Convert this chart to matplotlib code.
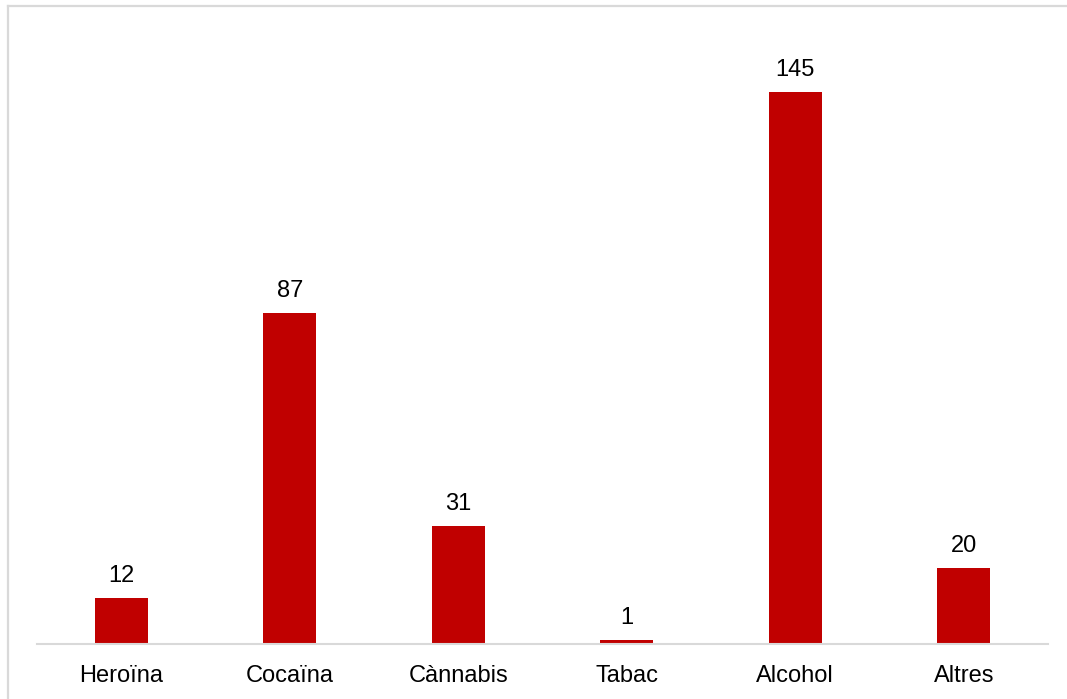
import matplotlib
matplotlib.use("Agg")
from matplotlib import pyplot as plt
from matplotlib.lines import Line2D

categories = ["Heroïna", "Cocaïna", "Cànnabis", "Tabac", "Alcohol", "Altres"]
values = [12, 87, 31, 1, 145, 20]

plt.rcParams['font.family'] = ['Liberation Sans', 'DejaVu Sans']

W, H = 1067, 699
fig = plt.figure(figsize=(W / 100, H / 100), dpi=100)

# axes placed in pixel terms: baseline at y=644, plot spans x 37..1048
ax = fig.add_axes([37 / W, (H - 644) / H, 1011 / W, 609 / H])
x = range(len(categories))
bars = ax.bar(x, values, width=0.315, color='#C00000', zorder=2)

for b, v in zip(bars, values):
    ax.annotate(str(v), (b.get_x() + b.get_width() / 2, v),
                xytext=(0, 11), textcoords='offset pixels',
                ha='center', va='bottom', fontsize=17, color='#000000')

ax.set_xlim(-0.5, len(categories) - 0.5)
ax.set_ylim(0, 160)
ax.set_xticks(list(x))
ax.set_xticklabels(categories, fontsize=17, color='#000000')
ax.tick_params(axis='x', length=0, pad=15)
ax.set_yticks([])
for s in ['top', 'left', 'right']:
    ax.spines[s].set_visible(False)
ax.spines['bottom'].set_color('#d9d9d9')
ax.spines['bottom'].set_linewidth(1.5)

# light frame around the chart (only top and left edges inside image)
fig.add_artist(Line2D([7.5 / W, 1.0], [1 - 6 / H, 1 - 6 / H], color='#d9d9d9', lw=1.6))
fig.add_artist(Line2D([7.5 / W, 7.5 / W], [0, 1 - 6 / H], color='#d9d9d9', lw=1.6))

fig.savefig('out.png', dpi=100)
